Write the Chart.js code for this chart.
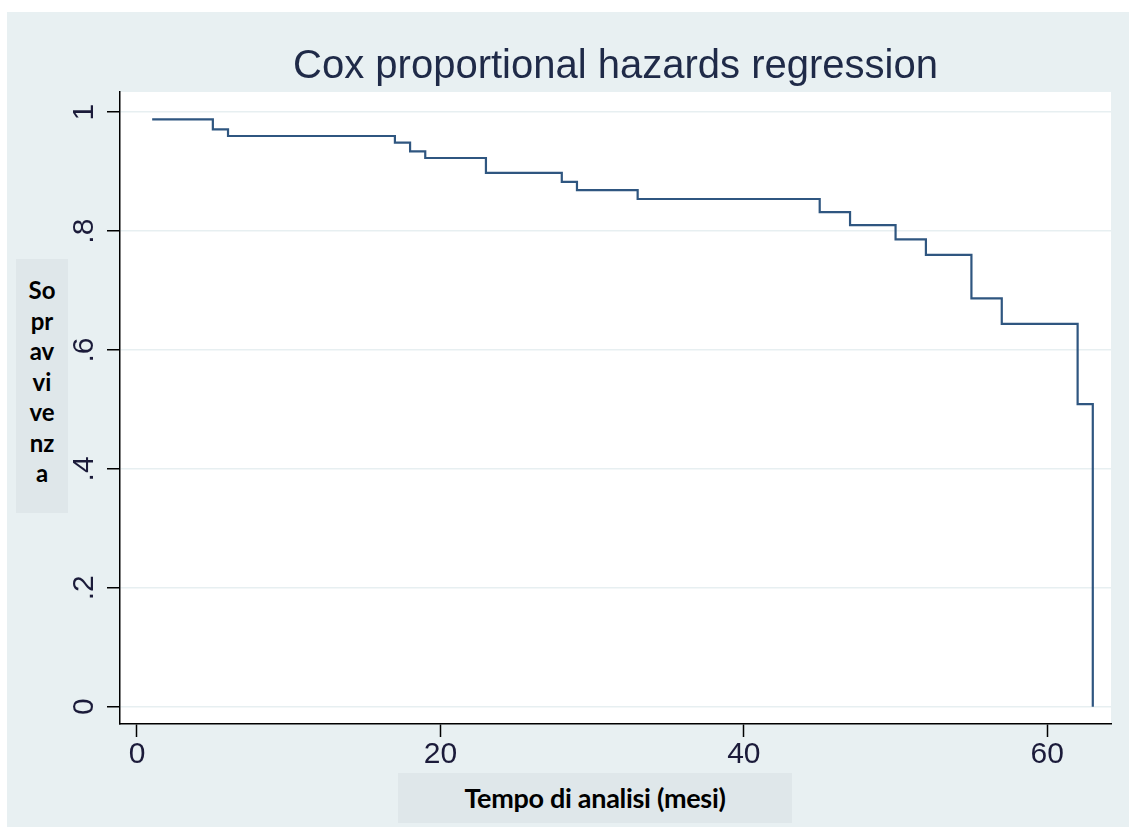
<!DOCTYPE html>
<html>
<head>
<meta charset="utf-8">
<script src="https://cdn.jsdelivr.net/npm/chart.js@4/dist/chart.umd.min.js"></script>
<style>
  html, body { margin: 0; padding: 0; background: #ffffff; }
  #pannello { position: absolute; left: 7px; top: 12px; width: 1122px; height: 815px; background: #e8f0f2; }
  #wrap { position: absolute; left: 0; top: 0; width: 1129px; height: 827px; }
  .etichetta { position: absolute; background: #dfe7ea; color: #000; font-family: Lato, "Open Sans", sans-serif; font-weight: 700; text-align: center; }
  #titoloY { left: 16px; top: 259px; width: 52px; height: 254px; font-size: 24px; line-height: 30.5px; padding-top: 16px; box-sizing: border-box; }
  #titoloX { left: 398px; top: 773px; width: 394px; height: 50px; font-size: 27px; line-height: 50px; letter-spacing: -0.3px; }
</style>
</head>
<body>
<div id="pannello"></div>
<div id="wrap"><canvas id="grafico" width="1129" height="827"></canvas></div>
<div id="titoloY" class="etichetta">So<br>pr<br>av<br>vi<br>ve<br>nz<br>a</div>
<div id="titoloX" class="etichetta">Tempo di analisi (mesi)</div>
<script>
// tempi (mesi) in cui la curva scende e sopravvivenza stimata dopo ogni salto
const tempi = [1, 5, 6, 17, 18, 19, 23, 28, 29, 33, 45, 47, 50, 52, 55, 57, 62, 63];
const sopravvivenza = [0.988, 0.971, 0.960, 0.949, 0.934, 0.923, 0.898, 0.883, 0.869, 0.854, 0.832, 0.810, 0.786, 0.760, 0.687, 0.644, 0.509, 0];

const xTicks = [0, 20, 40, 60];
const yTicks = [0, 0.2, 0.4, 0.6, 0.8, 1];
const yTickLabels = ["0", ".2", ".4", ".6", ".8", "1"];

// sfondo bianco dell'area del grafico
const sfondoArea = {
  id: "sfondoArea",
  beforeDraw(chart) {
    const { ctx, chartArea } = chart;
    ctx.save();
    ctx.fillStyle = "#ffffff";
    ctx.fillRect(chartArea.left, chartArea.top, chartArea.right - chartArea.left, chartArea.bottom - chartArea.top);
    ctx.restore();
  },
};

new Chart(document.getElementById("grafico").getContext("2d"), {
  type: "line",
  data: {
    datasets: [
      {
        data: tempi.map((t, i) => ({ x: t, y: sopravvivenza[i] })),
        borderColor: "#2f5680",
        borderWidth: 2.2,
        pointRadius: 0,
        stepped: "before",
        fill: false,
      },
    ],
  },
  options: {
    responsive: false,
    animation: false,
    layout: { padding: { left: 0, right: 18, top: 0, bottom: 0 } },
    plugins: {
      legend: { display: false },
      tooltip: { enabled: false },
      title: {
        display: true,
        text: "Cox proportional hazards regression",
        fullSize: false,
        color: "#1f2a48",
        font: { family: "'Liberation Sans', Arial, sans-serif", size: 40, weight: "normal" },
        padding: { top: 43, bottom: 1 },
      },
    },
    scales: {
      x: {
        type: "linear",
        min: -1.12,
        max: 64.2,
        afterBuildTicks: (s) => { s.ticks = xTicks.map((v) => ({ value: v })); },
        afterFit: (s) => { s.height = 103; },
        grid: { drawOnChartArea: false, tickColor: "#000", tickLength: 13, tickWidth: 1.5 },
        border: { color: "#000", width: 1.5 },
        ticks: {
          color: "#1b1b3a",
          padding: 0,
          maxRotation: 0,
          font: { family: "'Liberation Sans', Arial, sans-serif", size: 30 },
        },
      },
      y: {
        type: "linear",
        min: -0.029,
        max: 1.034,
        afterBuildTicks: (s) => { s.ticks = yTicks.map((v) => ({ value: v })); },
        afterFit: (s) => { s.width = 120; },
        grid: { color: "#e7eff1", lineWidth: 1.5, tickColor: "#000", tickLength: 13, tickWidth: 1.5 },
        border: { color: "#000", width: 1.5 },
        ticks: {
          color: "#1b1b3a",
          padding: 10,
          minRotation: 90,
          maxRotation: 90,
          crossAlign: "center",
          font: { family: "'Liberation Sans', Arial, sans-serif", size: 30 },
          callback: (v) => {
            const i = yTicks.indexOf(v);
            return i >= 0 ? yTickLabels[i] : "";
          },
        },
      },
    },
  },
  plugins: [sfondoArea],
});
</script>
</body>
</html>
